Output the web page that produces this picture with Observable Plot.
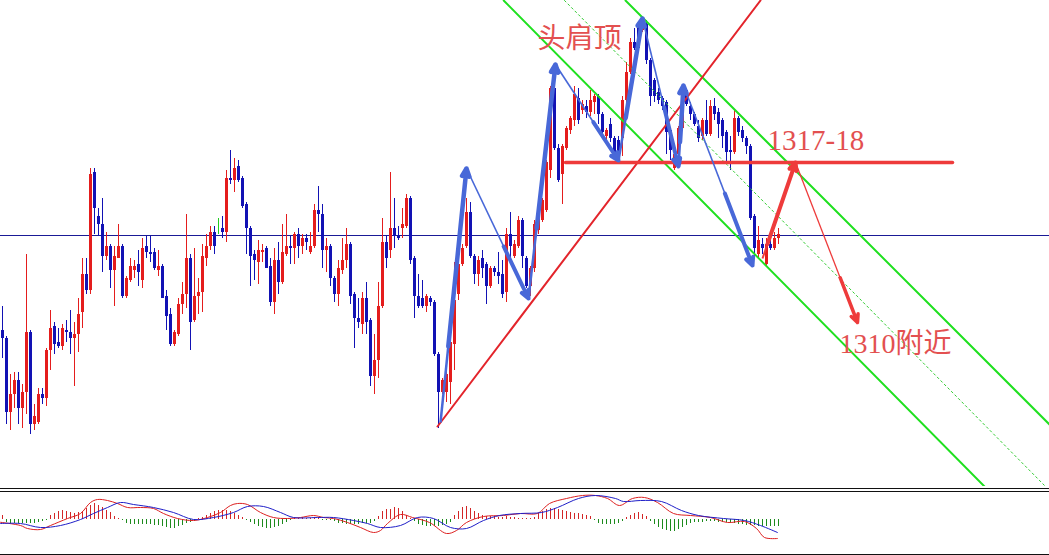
<!DOCTYPE html>
<html>
<head>
<meta charset="utf-8">
<script src="https://cdn.jsdelivr.net/npm/d3@7"></script>
<script src="https://cdn.jsdelivr.net/npm/@observablehq/plot@0.6"></script>
<style>
  html, body { margin: 0; padding: 0; background: #fff; }
  #chart { position: relative; width: 1049px; height: 555px; overflow: hidden; background: #fff; }
  #chart svg { position: absolute; left: 0; }
</style>
</head>
<body>
<div id="chart"></div>
<script>
// ---------- candle data (price, one entry per bar) ----------
const opens = [1309.1,1308.7,1305.0,1305.9,1306.6,1305.2,1306.0,1309.0,1304.4,1304.5,
1305.9,1305.7,1308.1,1309.3,1308.5,1308.3,1309.1,1309.0,1308.7,1308.9,
1310.0,1311.9,1311.1,1317.0,1314.8,1314.4,1312.8,1313.3,1312.1,1312.7,
1313.3,1310.8,1311.6,1312.1,1312.4,1311.6,1313.3,1313.0,1313.0,1312.1,
1312.3,1310.8,1309.9,1308.4,1308.9,1310.4,1310.9,1312.7,1309.6,1310.8,
1311.0,1312.7,1313.3,1314.0,1314.2,1314.2,1314.0,1316.7,1316.6,1317.3,
1316.7,1315.4,1314.2,1312.9,1312.5,1313.0,1313.2,1312.3,1310.5,1312.6,
1311.5,1312.9,1313.3,1313.2,1313.9,1313.3,1313.7,1313.0,1313.3,1315.1,
1314.9,1313.1,1313.3,1311.7,1310.9,1312.1,1312.6,1313.4,1310.9,1309.7,
1309.4,1310.7,1309.6,1306.8,1307.6,1310.3,1313.5,1313.1,1314.2,1313.8,
1314.2,1314.3,1315.7,1312.7,1310.8,1310.7,1310.3,1310.7,1310.5,1307.9,
1306.0,1306.0,1306.5,1308.4,1310.9,1312.4,1313.3,1315.0,1312.8,1311.9,
1312.7,1312.4,1311.3,1312.2,1312.0,1311.9,1311.0,1313.9,1312.8,1313.3,
1314.6,1312.7,1311.3,1312.2,1314.1,1314.6,1315.1,1317.1,1321.2,1318.2,
1316.9,1318.2,1319.1,1319.6,1320.7,1320.1,1320.3,1320.0,1320.5,1320.8,
1319.9,1318.8,1319.4,1318.7,1318.6,1318.7,1320.6,1322.0,1323.5,1324.3,
1324.1,1324.4,1322.6,1321.6,1321.0,1320.7,1320.5,1319.1,1317.2,1317.9,
1319.2,1321.1,1320.3,1319.9,1319.3,1318.8,1319.6,1318.9,1320.3,1320.0,
1319.6,1319.0,1318.1,1318.0,1319.7,1319.1,1318.7,1318.3,1314.8,1312.9,
1313.4,1312.4,1313.4,1313.2,1313.7];
const highs = [1310.3,1308.8,1306.9,1307.0,1307.0,1306.4,1312.9,1309.1,1305.4,1306.2,
1306.2,1308.2,1310.1,1309.5,1309.2,1309.4,1309.6,1310.1,1309.5,1310.7,
1312.7,1312.7,1317.2,1317.2,1315.2,1315.7,1314.0,1313.4,1313.3,1314.4,
1313.4,1311.8,1312.7,1312.6,1313.1,1313.7,1313.8,1313.8,1313.2,1313.1,
1312.4,1311.1,1310.2,1309.1,1310.7,1311.5,1314.9,1312.9,1313.2,1311.7,
1313.4,1313.9,1314.3,1314.3,1314.7,1314.8,1317.1,1318.1,1317.7,1317.6,
1316.8,1315.5,1314.3,1313.1,1313.6,1313.4,1313.3,1312.7,1313.2,1313.5,
1314.4,1314.9,1313.8,1314.0,1314.2,1313.9,1313.9,1314.0,1315.4,1316.3,
1315.4,1313.7,1313.4,1311.8,1312.6,1313.7,1314.2,1313.5,1311.0,1310.7,
1311.0,1311.5,1309.7,1308.9,1311.5,1314.7,1313.8,1317.0,1315.7,1314.3,
1315.2,1315.9,1315.8,1312.8,1311.9,1311.6,1310.9,1310.8,1310.6,1308.0,
1306.7,1307.4,1309.2,1312.5,1312.6,1313.4,1315.7,1315.5,1312.9,1312.8,
1313.1,1312.5,1312.3,1312.3,1313.0,1312.6,1314.2,1315.0,1313.6,1314.8,
1314.7,1312.8,1312.3,1314.6,1314.8,1315.7,1317.6,1321.3,1321.3,1318.4,
1318.4,1319.3,1319.8,1321.3,1321.2,1320.6,1320.6,1321.1,1320.9,1320.9,
1320.0,1319.2,1319.7,1318.8,1318.8,1320.8,1322.5,1323.7,1324.2,1324.4,
1324.7,1324.6,1322.7,1321.7,1321.2,1320.8,1320.6,1319.2,1318.0,1319.3,
1321.3,1321.2,1320.5,1320.0,1319.6,1319.7,1320.6,1320.6,1320.7,1320.2,
1319.7,1319.1,1318.8,1320.1,1319.8,1319.3,1318.8,1318.4,1314.9,1314.3,
1313.7,1313.7,1313.8,1314.0,1314.2];
const lows = [1307.7,1304.4,1304.1,1305.2,1304.4,1304.2,1304.9,1303.9,1304.1,1304.4,
1305.4,1305.3,1307.1,1307.9,1308.2,1308.1,1308.5,1307.9,1306.3,1308.0,
1309.2,1310.9,1310.9,1313.9,1313.8,1312.0,1312.6,1311.2,1310.3,1312.7,
1310.7,1310.7,1311.5,1311.7,1311.3,1311.2,1312.7,1312.5,1312.1,1311.8,
1310.7,1309.1,1308.3,1308.3,1308.8,1309.9,1310.2,1308.1,1309.5,1309.9,
1310.0,1312.3,1313.1,1312.9,1313.9,1313.7,1313.5,1316.4,1316.0,1316.5,
1315.2,1312.9,1311.3,1311.6,1311.4,1312.5,1312.2,1310.3,1309.9,1310.9,
1311.4,1312.8,1312.4,1312.4,1312.7,1312.9,1313.1,1312.9,1313.2,1314.0,
1312.2,1312.0,1311.3,1310.5,1310.3,1311.9,1312.2,1310.4,1308.2,1309.2,
1308.9,1308.9,1306.3,1305.9,1306.7,1310.2,1312.2,1312.7,1313.2,1313.6,
1313.7,1314.2,1312.4,1309.7,1310.2,1310.2,1310.0,1310.3,1307.8,1304.2,
1305.9,1305.5,1305.4,1307.1,1310.6,1312.3,1313.2,1312.7,1311.4,1311.3,
1311.7,1310.4,1311.2,1311.8,1311.4,1310.7,1310.5,1312.7,1312.7,1313.2,
1312.2,1311.2,1310.8,1312.0,1313.9,1314.5,1315.0,1316.7,1318.1,1316.5,
1315.4,1318.1,1318.9,1319.3,1319.4,1319.9,1319.7,1319.8,1319.9,1319.4,
1318.7,1318.5,1318.5,1317.9,1317.5,1317.8,1319.9,1321.9,1323.1,1323.1,
1324.0,1322.4,1320.3,1320.5,1320.4,1320.1,1317.9,1317.6,1317.1,1317.6,
1319.1,1320.3,1319.6,1319.3,1318.5,1318.6,1318.8,1318.8,1319.6,1318.7,
1318.2,1317.5,1317.1,1317.9,1318.8,1318.5,1317.9,1314.6,1312.7,1312.7,
1312.9,1312.3,1313.1,1313.1,1313.4];
const closes = [1308.7,1305.0,1305.9,1306.6,1305.2,1306.0,1309.0,1304.4,1304.8,1305.9,
1305.7,1308.1,1309.2,1308.4,1308.3,1309.2,1309.0,1308.7,1308.9,1309.9,
1311.9,1311.1,1316.9,1315.2,1314.4,1312.8,1313.3,1312.1,1312.8,1313.3,
1310.8,1311.7,1312.3,1312.3,1312.0,1313.2,1313.0,1312.9,1312.2,1312.3,
1310.7,1309.8,1308.4,1309.0,1310.4,1310.9,1312.7,1309.5,1310.8,1311.0,
1312.8,1313.3,1314.0,1313.3,1314.2,1314.0,1316.7,1316.6,1317.2,1316.6,
1315.3,1314.2,1312.8,1312.6,1313.1,1313.1,1312.2,1310.5,1312.6,1311.5,
1313.0,1313.3,1313.2,1313.9,1313.3,1313.7,1313.5,1313.3,1315.1,1314.9,
1313.1,1313.3,1311.7,1310.9,1312.2,1312.6,1313.4,1310.8,1309.7,1309.5,
1310.7,1309.5,1306.8,1307.6,1310.3,1313.5,1312.7,1314.2,1313.8,1313.7,
1314.4,1315.7,1312.6,1310.8,1310.3,1310.3,1310.8,1310.5,1307.9,1306.0,
1306.6,1306.9,1308.5,1310.6,1312.4,1313.2,1315.0,1312.8,1311.9,1312.6,
1312.2,1311.3,1312.2,1312.0,1311.8,1310.9,1313.9,1313.3,1313.4,1314.6,
1312.8,1311.3,1312.2,1314.4,1314.7,1315.6,1317.5,1321.2,1318.2,1316.6,
1318.3,1319.2,1319.7,1320.9,1319.6,1320.4,1320.0,1320.6,1320.8,1319.9,
1319.0,1319.1,1318.7,1318.0,1317.7,1320.6,1322.0,1323.5,1323.2,1323.2,
1324.4,1322.6,1320.8,1320.8,1320.6,1320.3,1319.0,1318.1,1317.9,1319.2,
1321.1,1320.4,1319.9,1319.4,1318.7,1319.6,1318.9,1320.3,1319.9,1319.4,
1318.8,1318.0,1318.0,1319.7,1319.0,1318.7,1318.3,1314.7,1313.2,1313.6,
1313.2,1313.4,1313.2,1313.7,1313.9];

// ---------- MACD panel data ----------
const histogram = [0.2,
-0.15,-0.2,-0.2,-0.2,-0.2,-0.2,-0.2,-0.2,-0.15,-0.1,
-0.05,
0.2,0.3,0.4,0.45,0.4,0.35,0.3,0.35,0.4,0.55,0.7,0.8,0.7,0.6,0.45,0.35,0.15,0.05,
-0.05,-0.2,-0.25,-0.25,-0.25,-0.25,-0.25,-0.25,-0.3,-0.3,-0.35,-0.4,-0.45,-0.45,-0.35,-0.3,-0.2,-0.15,-0.1,
0.05,
0.1,0.2,0.3,0.4,0.45,0.45,0.45,0.4,0.3,0.2,0.1,
-0.05,-0.15,-0.25,-0.35,-0.4,-0.45,-0.45,-0.4,-0.35,-0.25,-0.15,
-0.05,0.05,0.05,0.1,0.05,0.05,0.1,0.05,-0.05,-0.05,-0.05,
-0.1,-0.2,-0.2,-0.25,-0.25,-0.25,-0.25,-0.2,-0.2,-0.2,-0.1,
0.15,0.4,0.5,0.5,0.6,0.55,0.4,0.2,0.05,
-0.1,-0.25,-0.3,-0.35,-0.35,-0.35,-0.35,-0.3,-0.25,-0.15,
0.2,0.4,0.6,0.65,0.55,0.4,0.3,
0.2,0.15,0.15,0.15,0.1,0.1,0.15,0.1,0.1,0.05,0.05,0.05,0.05,0.1,
0.3,0.4,0.5,0.55,0.55,0.5,0.45,0.4,0.35,0.3,0.3,0.25,0.2,0.15,
-0.05,-0.2,-0.25,-0.25,-0.25,-0.25,-0.2,-0.1,
0.1,0.2,0.3,0.35,0.25,0.15,
-0.1,-0.25,-0.4,-0.5,-0.55,-0.6,-0.6,-0.5,-0.4,-0.3,-0.2,
-0.15,-0.15,-0.15,-0.1,-0.1,-0.1,-0.15,-0.15,-0.15,
-0.2,-0.2,-0.25,-0.25,-0.3,-0.3,-0.3,-0.35,-0.35,-0.35,-0.35,-0.35,-0.35];

const difBars = [-0.5,4.5,6.25,9.5,12,16.25,19.5,22,23.75,26.25,28.75,31.25,34.5,37.75,40.25,43.75,47.75,51.25,54.5,57,58.75,61.25,64.5,67.75,71.25,74.5,77.75,80.25,82.75,86.25,89.5,92.75,94.5,96.25,99.5,102.5,106.75,111,113.5,116,120.25,125.25,129.5,133.75,136.75,141,145,148.25,151.25,154.25,157.5,160.5,163.75,167.75,172,177,181.25,185.5,188.5,190.5,193.75];
const difValues = [-0.14,-0.3,-0.45,-0.5,-0.3,0.05,0.3,0.85,1.0,0.95,0.8,0.6,0.6,0.55,0.3,0.05,-0.05,0.1,0.35,0.7,0.8,0.75,0.35,0.1,0.05,0.1,0.2,0.1,0.05,-0.15,-0.4,-0.65,-0.55,-0.2,0.25,0.1,-0.15,-0.7,-0.55,-0.15,0.15,0.2,0.3,0.3,0.8,1.05,1.2,1.2,1.05,0.7,1.05,1.1,0.85,0.3,0.2,0.1,-0.15,-0.1,-0.45,-0.9,-0.95];
const deaBars = [-0.5,4.5,9.5,14.5,19.5,22.75,26.25,29.5,32.75,37.75,42.75,47.75,52.75,57.75,61.25,65.25,69.5,72.75,78.75,82.75,87.75,91.25,94.5,99.5,103.75,107.75,112,116,120.25,124.25,129.5,134.75,138.75,144,148.25,153.25,155.25,159.5,164.75,169.75,174,180.25,185.5,189.5,193.75];
const deaValues = [-0.2,-0.2,-0.4,-0.3,0,0.3,0.6,0.85,0.75,0.6,0.35,0,0.1,0.35,0.65,0.65,0.35,0.1,0.1,0.1,-0.05,-0.2,-0.4,-0.3,0.1,0.05,-0.4,-0.45,-0.05,0.2,0.3,0.35,0.6,1.05,1.2,1.05,0.9,0.95,0.9,0.45,0.2,0.05,-0.05,-0.3,-0.65];
const panelBorders = [1.55, 1.4, -1.75];

// ---------- drawn objects (bar index, price) ----------
const priceLine = [1313.85];
const trendUp = [[108.75, 1304.3], [189.5, 1325.6]];
const resistance = [[140.75, 1317.5], [237.5, 1317.5]];
const channelLower = [[125.3, 1325.6], [245.75, 1301.25]];
const channelUpper = [[155.75, 1325.6], [277.5, 1301.25]];
const channelMid = [[140.5, 1325.6], [261, 1301.25]];
const blueZigzag = [[109.5,1304.5],[116,1317.2],[131.5,1310.7],[138.25,1322.4],[154,1317.6],[160,1324.7],[169,1317.3],[170.25,1321.35],[187.5,1312.35]];
const redZigzag = [[190,1312.7],[198.25,1317.5],[213.75,1309.5]];
const labels = [
  {text: "头肩顶", bar: 133.75, price: 1323.67, size: 28},
  {text: "1317-18", bar: 191.25, price: 1318.6, size: 29},
  {text: "1310附近", bar: 209.25, price: 1308.4, size: 28}
];

// ---------- build ----------
const UP = "#e41d1d", DOWN = "#1212b4", DOJI = "#22cc22";
const candles = opens.map((o, i) => ({
  i, o, h: highs[i], l: lows[i], c: closes[i],
  col: closes[i] > o ? UP : closes[i] < o ? DOWN : DOJI
}));
const pts = arr => arr.map(([i, p]) => ({i, p}));
function legs(zig) {
  const out = [];
  for (let k = 0; k < zig.length - 1; k++) {
    const [x1, y1] = zig[k], [x2, y2] = zig[k + 1];
    out.push({x1, y1, x2, y2, up: y2 > y1});
  }
  return out;
}
function tails(ls, fracUp, fracDown) {
  return ls.map(d => {
    const f = d.up ? fracUp : fracDown;
    return {x1: d.x1 + (d.x2 - d.x1) * f, y1: d.y1 + (d.y2 - d.y1) * f, x2: d.x2, y2: d.y2, up: d.up};
  });
}
const blueLegs = legs(blueZigzag), redLegs = legs(redZigzag);
const BLUE_A = "#4868d8", RED_A = "#ee3b3b", GREEN = "#1fe01f";
const xDomain = [-0.5, 261.75];

const main = Plot.plot({
  width: 1049, height: 486, margin: 0,
  x: {domain: xDomain, axis: null},
  y: {domain: [1301.3, 1325.6], axis: null},
  color: {type: "identity"},
  style: {background: "white", overflow: "hidden"},
  marks: [
    Plot.ruleY(priceLine, {stroke: "#1a1a96", strokeWidth: 1}),
    Plot.ruleX(candles, {x: "i", y1: "l", y2: "h", stroke: "col", strokeWidth: 1}),
    Plot.ruleX(candles, {x: "i", y1: "o", y2: "c", stroke: "col", strokeWidth: 3}),
    Plot.line(pts(channelMid), {x: "i", y: "p", stroke: "#33cc33", strokeWidth: 1, strokeDasharray: "2,3", clip: true}),
    Plot.line(pts(channelLower), {x: "i", y: "p", stroke: GREEN, strokeWidth: 2, clip: true}),
    Plot.line(pts(channelUpper), {x: "i", y: "p", stroke: GREEN, strokeWidth: 2, clip: true}),
    Plot.line(pts(trendUp), {x: "i", y: "p", stroke: "#e3242b", strokeWidth: 2, clip: true}),
    Plot.line(pts(resistance), {x: "i", y: "p", stroke: RED_A, strokeWidth: 3.5}),
    Plot.link(blueLegs, {x1: "x1", y1: "y1", x2: "x2", y2: "y2", stroke: BLUE_A, strokeWidth: d => d.up ? 2.5 : 1.6}),
    Plot.arrow(tails(blueLegs, 0.3, 0.6), {x1: "x1", y1: "y1", x2: "x2", y2: "y2", stroke: BLUE_A, strokeWidth: d => d.up ? 4.5 : 4, headLength: 13, headAngle: 50}),
    Plot.link(redLegs, {x1: "x1", y1: "y1", x2: "x2", y2: "y2", stroke: RED_A, strokeWidth: d => d.up ? 2 : 1.3}),
    Plot.arrow(tails(redLegs, 0.15, 0.72), {x1: "x1", y1: "y1", x2: "x2", y2: "y2", stroke: RED_A, strokeWidth: d => d.up ? 4 : 3.5, headLength: 13, headAngle: 50}),
    Plot.text(labels, {x: "bar", y: "price", text: "text", fontSize: "size", textAnchor: "start", lineAnchor: "middle",
      fill: "#e35050", fontFamily: "'Liberation Serif', 'Noto Sans CJK SC', serif"})
  ]
});
main.style.top = "0px";

const macd = Plot.plot({
  width: 1049, height: 69, margin: 0,
  x: {domain: xDomain, axis: null},
  y: {domain: [-1.8, 1.65], axis: null},
  color: {type: "identity"},
  style: {background: "white", overflow: "hidden"},
  marks: [
    Plot.ruleY(panelBorders, {stroke: "#111", strokeWidth: 1}),
    Plot.ruleX(histogram, {x: (d, i) => i, y1: 0, y2: d => d, stroke: d => d >= 0 ? "#d32626" : "#1d8a1d", strokeWidth: 1}),
    Plot.line(difBars.map((b, k) => ({b, v: difValues[k]})), {x: "b", y: "v", stroke: "#dd2020", strokeWidth: 1, curve: "catmull-rom"}),
    Plot.line(deaBars.map((b, k) => ({b, v: deaValues[k]})), {x: "b", y: "v", stroke: "#1f1fc8", strokeWidth: 1, curve: "catmull-rom"})
  ]
});
macd.style.top = "486px";

const root = document.getElementById("chart");
root.appendChild(main);
root.appendChild(macd);
</script>
</body>
</html>
